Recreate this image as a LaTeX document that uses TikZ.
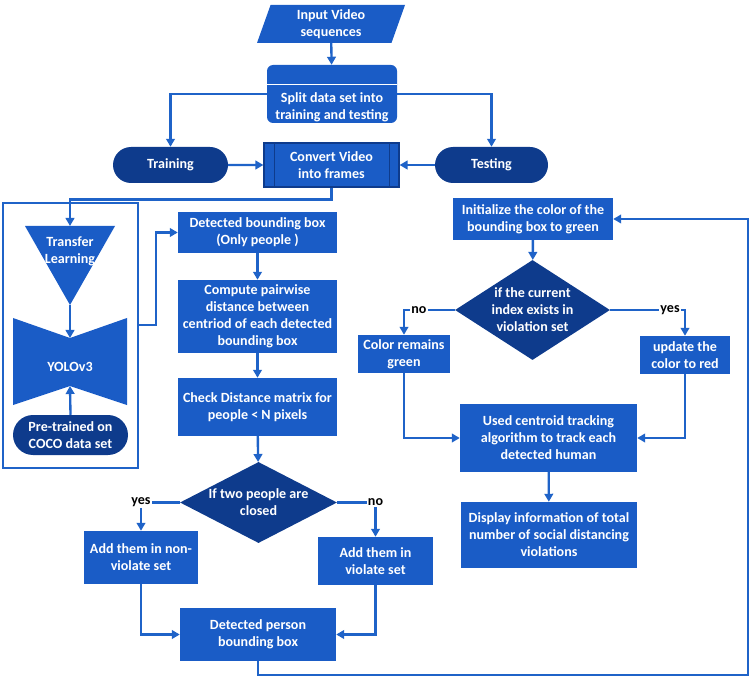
\documentclass[tikz,border=0pt]{standalone}
\usepackage{fontspec}
\setmainfont{Carlito}
\usetikzlibrary{arrows.meta,positioning,shapes.geometric,shapes.misc}
\definecolor{flowBlue}{HTML}{1A5CC6}
\definecolor{flowNavy}{HTML}{0E3B8C}
\definecolor{flowLine}{HTML}{1F63C8}
\newcommand{\pxu}{0.03cm}
\tikzset{
  every picture/.style={font=\bfseries\fontsize{12}{14.5}\selectfont, text=white},
  flow box/.style={fill=flowBlue, align=center, inner sep=0pt},
  flow term/.style={rounded rectangle, fill=flowNavy, align=center, inner sep=0pt},
  flow decision/.style={diamond, fill=flowNavy, align=center, inner sep=0pt},
  box size/.style 2 args={minimum width=#1*\pxu, minimum height=#2*\pxu},
  flow line/.style={draw=flowLine, line width=2pt},
  flow arrow/.style={flow line, -{Triangle[length=2.4mm,width=2.6mm]}},
  flow label/.style={text=black, fill=white, inner sep=1pt}
}

\begin{document}
\begin{tikzpicture}[x=\pxu,y=-\pxu]
  \useasboundingbox (0,0) rectangle (752,679);

  % top row
  \node[trapezium, trapezium left angle=65, trapezium right angle=115,
    trapezium stretches body, fill=flowBlue, align=center, inner sep=0pt,
    box size={148}{38}] (input) at (331,24) {Input Video\\sequences};
  \node[flow box, rounded corners=6*\pxu, box size={130}{58}] (split) at (332,94) {};
  \draw[white, line width=1.2pt] ([yshift=-20*\pxu]split.north west) -- ([yshift=-20*\pxu]split.north east);
  \node[align=center] (splittext) at (332,107) {Split data set into\\training and testing};
  \node[flow term, box size={115}{36}] (training) at (170.5,165) {Training};
  \node[flow term, box size={113}{36}] (testing) at (491.5,165) {Testing};
  \node[flow box, draw=flowNavy, line width=1pt, box size={135}{44}] (convert) at (331.5,165) {Convert Video\\into frames};
  \draw[flowNavy, line width=1pt]
    ([xshift=11*\pxu]convert.north west) -- ([xshift=11*\pxu]convert.south west)
    ([xshift=-10*\pxu]convert.north east) -- ([xshift=-10*\pxu]convert.south east);

  % left panel
  \node[flow line, box size={135}{265}] (panel) at (70.5,335.5) {};
  \fill[flowBlue] (25,226) -- (115,226) -- (70,305) -- cycle;
  \node[align=center] (transfer) at (70,251) {Transfer\\Learning};
  \coordinate (transfer top) at (70,226);
  \coordinate (transfer tip) at (70,305);
  \fill[flowBlue] (13,318) -- (70,338) -- (127,318) -- (127,405) -- (70,386) -- (13,405) -- cycle;
  \node (yolo) at (70,367) {YOLOv3};
  \coordinate (yolo top) at (70,338);
  \coordinate (yolo bottom) at (70,386);
  \node[flow term, box size={115}{40}] (pretrained) at (70.5,435) {Pre-trained on\\COCO data set};

  % middle column
  \node[flow box, box size={159}{41}] (detect) at (257.5,232.5) {Detected bounding box\\(Only people )};
  \node[flow box, box size={159}{73}] (pairwise) at (257.5,316.5) {Compute pairwise\\distance between\\centriod of each detected\\bounding box};
  \node[flow box, box size={159}{58}] (check) at (257.5,407) {Check Distance matrix for\\people < N pixels};
  \node[flow decision, aspect=1.94, box size={157}{81}] (close) at (258.5,502.5) {If two people are\\closed};
  \node[flow box, box size={114}{53}] (nonviol) at (141,557.5) {Add them in non-\\violate set};
  \node[flow box, box size={115}{48}] (viol) at (375.5,561) {Add them in\\violate set};
  \node[flow box, box size={156}{53}] (person) at (258,634.5) {Detected person\\bounding box};

  % right column
  \node[flow box, box size={160}{42}] (init) at (533,219) {Initialize the color of the\\bounding box to green};
  \node[flow decision, aspect=1.55, box size={155}{100}] (current) at (532.5,310) {if the current\\index exists in\\violation set};
  \node[flow box, box size={92}{38}] (remain) at (404,354) {Color remains\\green};
  \node[flow box, box size={90}{38}] (update) at (685,355) {update the\\color to red};
  \node[flow box, box size={177}{68}] (track) at (548.5,438) {Used centroid tracking\\algorithm to track each\\detected human};
  \node[flow box, box size={176}{66}] (display) at (549,535) {Display information of total\\number of social distancing\\violations};
  \coordinate (loop corner) at (748,675);

  % connectors
  \draw[flow arrow] (input) -- (split);
  \draw[flow arrow] (split.west) -| (training.north);
  \draw[flow arrow] (split.east) -| (testing.north);
  \draw[flow arrow] (training) -- (convert);
  \draw[flow arrow] (testing) -- (convert);
  \draw[flow arrow] (convert.south) -- ++(0,12) -| (transfer top);
  \draw[flow arrow] (transfer tip) -- (yolo top);
  \draw[flow arrow] (pretrained.north) -- (yolo bottom);
  \draw[flow arrow] ([yshift=10.5*\pxu]panel.east) -- ++(17,0) |- (detect.west);
  \draw[flow arrow] (detect) -- (pairwise);
  \draw[flow arrow] (pairwise) -- (check);
  \draw[flow arrow] (check) -- (close);
  \draw[flow arrow] (close.west) -| node[flow label, pos=0.5] {yes} (nonviol.north);
  \draw[flow arrow] (close.east) -| node[flow label, pos=0.5] {no} (viol.north);
  \draw[flow arrow] (nonviol.south) |- (person.west);
  \draw[flow arrow] (viol.south) |- (person.east);
  \draw[flow arrow] (person.south) |- (loop corner) |- (init.east);
  \draw[flow arrow] (init) -- (current);
  \draw[flow arrow] (current.west) -| node[flow label, pos=0.45, anchor=west] {no} (remain.north);
  \draw[flow arrow] (current.east) -| node[flow label, pos=0.4] {yes} (update.north);
  \draw[flow arrow] (remain.south) |- (track.west);
  \draw[flow arrow] (update.south) |- (track.east);
  \draw[flow arrow] (track) -- (display);
\end{tikzpicture}
\end{document}
